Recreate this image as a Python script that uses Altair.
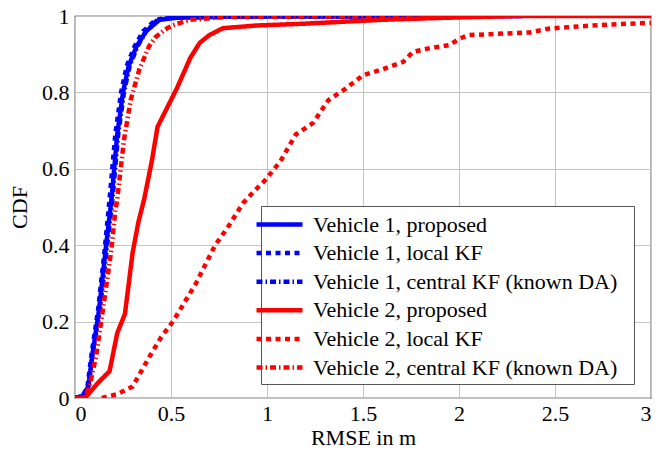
import altair as alt
import pandas as pd

series = [
    "Vehicle 1, proposed",
    "Vehicle 1, local KF",
    "Vehicle 1, central KF (known DA)",
    "Vehicle 2, proposed",
    "Vehicle 2, local KF",
    "Vehicle 2, central KF (known DA)",
]
colors = ["#0000ff", "#0000ff", "#0000ff", "#ff0000", "#ff0000", "#ff0000"]
dashes = [[1, 0], [5, 4.5], [6, 3, 1.5, 3], [1, 0], [5, 4.5], [6, 3, 1.5, 3]]

# Vehicle 1, proposed
v1p_x = [0, 0.04, 0.07, 0.09, 0.125, 0.16, 0.19, 0.22, 0.25, 0.28, 0.32, 0.37, 0.44, 0.54, 0.8, 1.2, 1.8, 2.33]
v1p_y = [0, 0.005, 0.03, 0.11, 0.23, 0.39, 0.52, 0.69, 0.80, 0.87, 0.92, 0.96, 0.99, 0.996, 0.998, 0.999, 0.999, 1.0]
# Vehicle 1, local KF
v1l_x = [0, 0.04, 0.065, 0.085, 0.12, 0.155, 0.18, 0.21, 0.24, 0.27, 0.31, 0.355, 0.42, 0.5, 0.8, 1.3, 1.9, 2.3]
v1l_y = [0, 0.005, 0.03, 0.11, 0.23, 0.39, 0.52, 0.69, 0.80, 0.87, 0.92, 0.96, 0.99, 0.996, 0.998, 0.999, 0.999, 1.0]
# Vehicle 1, central KF (known DA)
v1c_x = [0, 0.045, 0.07, 0.09, 0.13, 0.165, 0.195, 0.225, 0.255, 0.285, 0.325, 0.37, 0.43, 0.52, 0.8, 1.25, 1.85, 2.33]
v1c_y = [0, 0.005, 0.03, 0.11, 0.23, 0.39, 0.52, 0.69, 0.80, 0.87, 0.92, 0.96, 0.99, 0.996, 0.998, 0.999, 0.999, 1.0]
# Vehicle 2, proposed
v2p_x = [0, 0.05, 0.07, 0.12, 0.18, 0.22, 0.26, 0.30, 0.33, 0.36, 0.40, 0.43, 0.47, 0.53, 0.60, 0.65, 0.70, 0.77, 0.94, 1.2, 1.4, 1.6, 1.9, 2.3, 3.0]
v2p_y = [0, 0, 0.01, 0.04, 0.07, 0.17, 0.22, 0.38, 0.46, 0.52, 0.62, 0.71, 0.75, 0.81, 0.89, 0.93, 0.95, 0.968, 0.975, 0.98, 0.985, 0.99, 0.995, 1.0, 1.0]
# Vehicle 2, local KF
v2l_x = [0.14, 0.22, 0.30, 0.39, 0.45, 0.51, 0.57, 0.63, 0.68, 0.73, 0.80, 0.875, 0.93, 0.99, 1.07, 1.15, 1.24, 1.32, 1.41, 1.50, 1.60, 1.71, 1.76, 1.85, 1.95, 2.0, 2.05, 2.37, 2.47, 2.63, 2.8, 3.0]
v2l_y = [0, 0.01, 0.03, 0.11, 0.16, 0.20, 0.25, 0.30, 0.35, 0.40, 0.45, 0.51, 0.54, 0.57, 0.62, 0.69, 0.72, 0.78, 0.81, 0.845, 0.86, 0.88, 0.906, 0.916, 0.924, 0.94, 0.95, 0.957, 0.967, 0.973, 0.978, 0.982]
# Vehicle 2, central KF (known DA)
v2c_x = [0, 0.04, 0.06, 0.08, 0.11, 0.145, 0.19, 0.21, 0.22, 0.255, 0.29, 0.335, 0.385, 0.42, 0.47, 0.51, 0.6, 0.77, 1.0, 1.5, 2.3]
v2c_y = [0, 0, 0.01, 0.04, 0.11, 0.23, 0.39, 0.49, 0.52, 0.675, 0.78, 0.86, 0.92, 0.945, 0.965, 0.976, 0.99, 0.997, 0.998, 0.999, 1.0]

xs = [v1p_x, v1l_x, v1c_x, v2p_x, v2l_x, v2c_x]
ys = [v1p_y, v1l_y, v1c_y, v2p_y, v2l_y, v2c_y]

rows = []
for s, xx, yy in zip(series, xs, ys):
    for i, (a, b) in enumerate(zip(xx, yy)):
        rows.append({"series": s, "x": a, "y": b, "i": i})
df = pd.DataFrame(rows)

x_ticks = [0, 0.5, 1, 1.5, 2, 2.5, 3]
y_ticks = [0, 0.2, 0.4, 0.6, 0.8, 1]

FONT = "Liberation Serif, Times New Roman, Times, DejaVu Serif, serif"

legend = alt.Legend(
    title=" ",
    titleOrient="right",
    titlePadding=12,
    titleFontSize=1,
    titleColor="white",
    orient="none",
    legendX=186,
    legendY=190,
    fillColor="white",
    strokeColor="#555555",
    padding=5,
    symbolType="M-3.27,0L-3.27,0M-2.09,0L2.09,0",
    symbolSize=484,
    symbolStrokeWidth=4.5,
    labelFont=FONT,
    labelFontSize=22,
    labelColor="black",
    labelOffset=20,
    labelLimit=500,
    rowPadding=3.6,
)

chart = alt.Chart(df).mark_line(strokeWidth=4.5, clip=True).encode(
    x=alt.X(
        "x:Q",
        scale=alt.Scale(domain=[0, 3], nice=False),
        axis=alt.Axis(
            values=x_ticks, format="~g", title="RMSE in m",
            ticks=False, tickSize=0, domain=False,
            labelPadding=5, labelBaseline="top",
            titleBaseline="alphabetic", titleY=46,
        ),
    ),
    y=alt.Y(
        "y:Q",
        scale=alt.Scale(domain=[0, 1], nice=False),
        axis=alt.Axis(
            values=y_ticks, format="~g", title="CDF",
            ticks=False, tickSize=0, domain=False,
            labelPadding=6,
            titleX=-56, titleY=191, titleBaseline="middle",
        ),
    ),
    color=alt.Color("series:N", scale=alt.Scale(domain=series, range=colors), legend=legend),
    strokeDash=alt.StrokeDash("series:N", scale=alt.Scale(domain=series, range=dashes), legend=legend),
    order=alt.Order("i:Q"),
).properties(
    width=576,
    height=382,
    padding={"left": 75, "top": 16, "right": 21, "bottom": 53},
    autosize=alt.AutoSizeParams(type="none"),
).configure_view(
    stroke="black", strokeWidth=1.2
).configure_axis(
    gridColor="#c4c4c4", gridWidth=1,
    labelFont=FONT, labelFontSize=22, labelColor="black",
    titleFont=FONT, titleFontSize=22, titleColor="black", titleFontWeight="normal",
)

chart.save("out.html", embed_options={"renderer": "svg", "actions": False})
